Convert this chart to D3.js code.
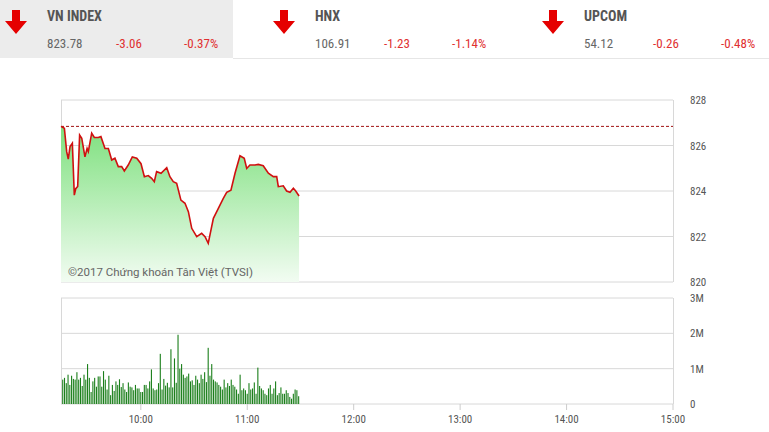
<!DOCTYPE html>
<html><head><meta charset="utf-8">
<script src="https://cdn.jsdelivr.net/npm/d3@7"></script>
<style>body{margin:0;background:#fff;font-family:"Roboto Condensed","Liberation Sans Narrow",Roboto,sans-serif}</style>
</head><body><svg id="c" width="769" height="432"></svg>
<script>
const indices=["VN INDEX","HNX","UPCOM"];
const indexValues=["823.78","106.91","54.12"];
const indexChanges=["-3.06","-1.23","-0.26"];
const indexPcts=["-0.37%","-1.14%","-0.48%"];
const refPrice=826.84;
const priceMinutes=[0,1.9,3.2,4.1,5.1,6.4,7.5,8.3,9.4,10.5,11.7,13.5,14.7,15.4,17.3,18.8,21,22.5,24.8,26.7,28.6,30.4,32.3,34.2,35.7,37.9,40.2,42.7,45.1,47,49.2,51.1,52.6,53.9,56.4,59.6,61.4,63.3,65.2,67.6,69.9,71.8,73.7,76.5,79.3,81.2,83,85.9,88.7,91.5,93.4,95.8,98.1,100.9,103.3,104.7,106.5,109.4,111.2,114,116.9,119.7,121.6,122.5,125.3,127.2,129.1,131,132.3,134.2];
const prices=[826.84,826.76,825.73,825.4,825.95,826.1,823.82,824.1,824.2,826.46,826.32,825.5,825.87,825.73,826.54,826.35,826.35,826.39,825.87,825.87,825.36,825.44,825.07,825.07,824.88,825.14,825.5,825.44,825.2,824.63,824.68,824.56,824.41,824.85,824.78,825.02,824.63,824.41,824.34,823.6,823.46,823.09,822.36,821.99,822.14,821.99,821.7,822.8,823.24,823.68,823.94,824.04,824.78,825.55,825.44,824.99,825.14,825.14,825.17,825.11,824.78,824.63,824.63,824.19,824.23,824.0,823.94,824.12,824.0,823.78];
const volumes=[690,740,590,830,540,800,710,690,900,690,740,510,830,690,1130,740,340,640,740,490,780,780,490,930,690,410,800,250,540,370,640,540,700,480,590,410,340,610,490,470,390,540,440,440,340,340,540,540,440,640,980,440,390,410,590,1420,410,710,520,600,470,1550,470,1290,600,1960,1000,1130,830,740,780,860,640,670,540,800,690,590,830,710,900,620,1590,800,1130,690,640,610,540,490,410,690,470,590,510,690,540,490,410,290,830,390,440,390,290,590,410,440,610,290,1030,510,440,390,290,250,440,540,290,440,640,250,310,470,290,290,390,310,200,150,290,410,390,220];
const priceTicks=[820,822,824,826,828];
const volTicks=[0,1000,2000,3000];
const volTickLabels=["0","1M","2M","3M"];
const timeTicks=[45,105,165,225,285,345];
const timeLabels=["10:00","11:00","12:00","13:00","14:00","15:00"];

const svg=d3.select("#c");
svg.append("rect").attr("x",0).attr("y",0).attr("width",233).attr("height",58).attr("fill","#ececec");
svg.append("line").attr("x1",233).attr("x2",769).attr("y1",58.5).attr("y2",58.5).attr("stroke","#e6e6e6");
const hx=[0,268,537];
indices.forEach((n,i)=>{
  const g=svg.append("g").attr("transform",`translate(${hx[i]},0)`);
  g.append("path").attr("d","M12,10 L20,10 L20,21 L27,21 L16,34 L5,21 L12,21 Z").attr("fill","#e50000");
  g.append("text").attr("x",47).attr("y",21).text(n).attr("font-size",14).attr("font-weight","bold").attr("fill","#555");
  g.append("text").attr("x",47).attr("y",48).text(indexValues[i]).attr("font-size",13).attr("fill","#666");
  g.append("text").attr("x",116).attr("y",48).text(indexChanges[i]).attr("font-size",13).attr("fill","#e03030");
  g.append("text").attr("x",184).attr("y",48).text(indexPcts[i]).attr("font-size",13).attr("fill","#e03030");
});
const x=d3.scaleLinear().domain([0,345]).range([61,673]);
const y=d3.scaleLinear().domain([820,828]).range([282,100]);
const yv=d3.scaleLinear().domain([0,3000]).range([404,298]);
priceTicks.forEach(t=>svg.append("line").attr("x1",61).attr("x2",673).attr("y1",y(t)).attr("y2",y(t)).attr("stroke","#d8d8d8"));
volTicks.forEach(t=>svg.append("line").attr("x1",61).attr("x2",673).attr("y1",yv(t)).attr("y2",yv(t)).attr("stroke","#d8d8d8"));
[[100,282],[298,404]].forEach(r=>{svg.append("line").attr("x1",61.5).attr("x2",61.5).attr("y1",r[0]).attr("y2",r[1]).attr("stroke","#d8d8d8");
 svg.append("line").attr("x1",673.5).attr("x2",673.5).attr("y1",r[0]).attr("y2",r[1]).attr("stroke","#d8d8d8");});
const defs=svg.append("defs");
const gr=defs.append("linearGradient").attr("id","gf").attr("x1",0).attr("x2",0).attr("y1",0).attr("y2",1);
gr.append("stop").attr("offset","0%").attr("stop-color","#7ee07e");
gr.append("stop").attr("offset","100%").attr("stop-color","#f2fcf2");
const pts=priceMinutes.map((m,i)=>[m,prices[i]]);
svg.append("path").datum(pts).attr("fill","url(#gf)").attr("d",d3.area().x(d=>x(d[0])).y0(282).y1(d=>y(d[1])));
svg.append("text").attr("x",68).attr("y",276).text("©2017 Chứng khoán Tân Việt (TVSI)").attr("font-size",11.5).attr("fill","#666").attr("font-family","Roboto,sans-serif");
svg.append("line").attr("x1",61).attr("x2",673).attr("y1",y(refPrice)).attr("y2",y(refPrice)).attr("stroke","#a01010").attr("stroke-dasharray","3,2");
svg.append("path").datum(pts).attr("fill","none").attr("stroke","#d01010").attr("stroke-width",1.6).attr("d",d3.line().x(d=>x(d[0])).y(d=>y(d[1])));
svg.selectAll(".v").data(volumes).enter().append("rect").attr("x",(d,i)=>x(i+1)-0.6).attr("width",1.1).attr("y",d=>yv(d)).attr("height",d=>404-yv(d)).attr("fill","#1b7f1b");
priceTicks.forEach(t=>svg.append("text").attr("x",690).attr("y",y(t)+4).text(t).attr("font-size",11).attr("fill","#555"));
volTicks.forEach((t,i)=>svg.append("text").attr("x",690).attr("y",yv(t)+4).text(volTickLabels[i]).attr("font-size",11).attr("fill","#555"));
timeTicks.forEach((t,i)=>{svg.append("line").attr("x1",x(t)).attr("x2",x(t)).attr("y1",404).attr("y2",410).attr("stroke","#ccc");
 svg.append("text").attr("x",x(t)).attr("y",423).attr("text-anchor","middle").text(timeLabels[i]).attr("font-size",11).attr("fill","#555");});
</script></body></html>
